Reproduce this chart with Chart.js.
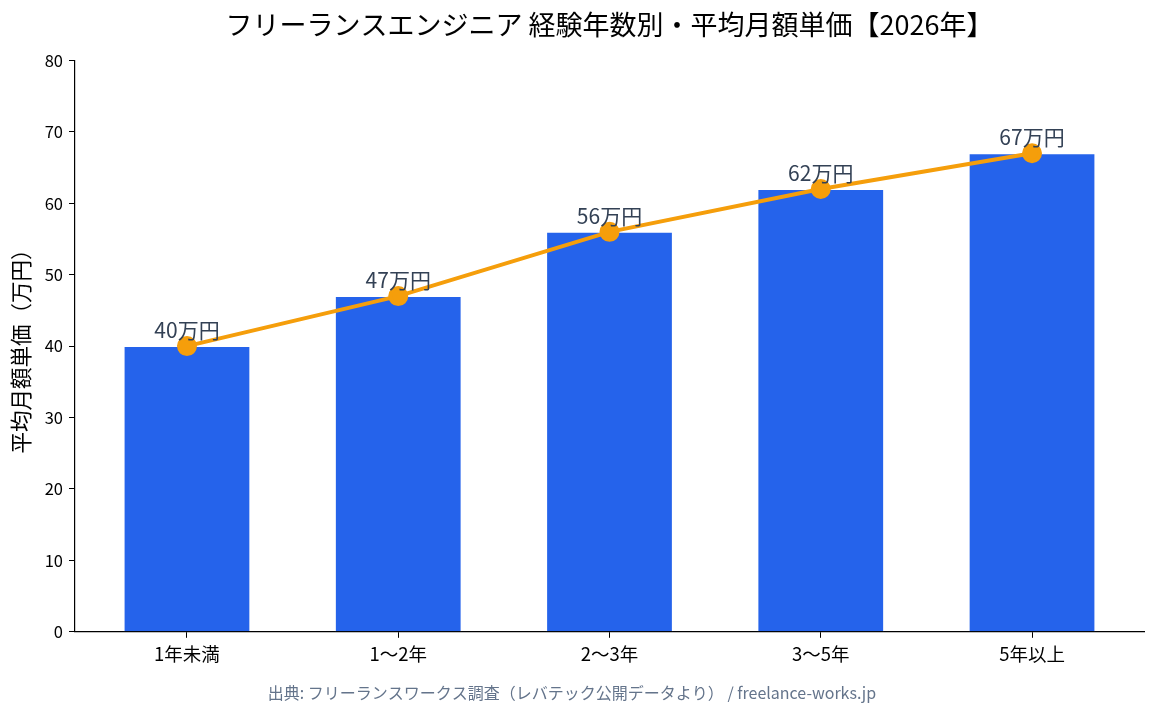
<!DOCTYPE html>
<html lang="ja">
<head>
<meta charset="utf-8">
<script src="https://cdn.jsdelivr.net/npm/chart.js@4/dist/chart.umd.min.js"></script>
<style>
  html, body { margin: 0; padding: 0; background: #fff; }
  #wrap { width: 1156px; height: 717px; }
</style>
</head>
<body>
<div id="wrap"><canvas id="chart"></canvas></div>
<script>
const categories = ['1年未満', '1〜2年', '2〜3年', '3〜5年', '5年以上'];
const monthlyRate = [40, 47, 56, 62, 67];
const yTicks = [0, 10, 20, 30, 40, 50, 60, 70, 80];

const FONT = '"Noto Sans CJK JP", "Noto Sans", sans-serif';

const points = monthlyRate.map((v, i) => ({ x: i, y: v }));

const valueLabels = {
  id: 'valueLabels',
  afterDatasetsDraw(chart) {
    const ctx = chart.ctx;
    const meta = chart.getDatasetMeta(1);
    ctx.save();
    ctx.font = '21px ' + FONT;
    ctx.fillStyle = '#334155';
    ctx.textAlign = 'center';
    ctx.textBaseline = 'alphabetic';
    meta.data.forEach((pt, i) => {
      ctx.fillText(monthlyRate[i] + '万円', pt.x, pt.y - 8);
    });
    ctx.restore();
  }
};

new Chart(document.getElementById('chart'), {
  type: 'bar',
  data: {
    datasets: [
      {
        type: 'bar',
        data: points,
        backgroundColor: '#2563eb',
        borderColor: '#ffffff',
        borderWidth: 1,
        barPercentage: 0.6,
        categoryPercentage: 1,
        order: 1
      },
      {
        type: 'line',
        data: points,
        borderColor: '#f59e0b',
        backgroundColor: '#f59e0b',
        borderWidth: 4,
        pointRadius: 8,
        pointBackgroundColor: '#f59e0b',
        pointBorderColor: '#f59e0b',
        fill: false,
        order: 0
      }
    ]
  },
  options: {
    responsive: true,
    maintainAspectRatio: false,
    animation: false,
    layout: { padding: { left: 0, right: 12, top: 0, bottom: 0 } },
    scales: {
      x: {
        type: 'linear',
        min: -0.53,
        max: 4.53,
        offset: false,
        afterBuildTicks(scale) {
          scale.ticks = categories.map((_, i) => ({ value: i }));
        },
        afterFit(scale) { scale.height = 44; },
        ticks: {
          autoSkip: false,
          color: '#000',
          font: { family: FONT, size: 18.5 },
          padding: 5,
          callback: (v) => categories[v]
        },
        grid: { offset: false, drawOnChartArea: false, drawTicks: true, tickLength: 6, color: '#000' },
        border: { display: true, color: '#000', width: 1.2 }
      },
      y: {
        min: 0,
        max: 80,
        afterBuildTicks(scale) {
          scale.ticks = yTicks.map((v) => ({ value: v }));
        },
        afterFit(scale) { scale.width = 75; },
        ticks: {
          color: '#000',
          font: { family: FONT, size: 16.5 },
          padding: 6
        },
        grid: { drawOnChartArea: false, drawTicks: true, tickLength: 6, color: '#000' },
        border: { display: true, color: '#000', width: 1.2 },
        title: {
          display: true,
          text: '平均月額単価（万円）',
          color: '#000',
          font: { family: FONT, size: 21.5 },
          padding: { top: 8, bottom: 4 }
        }
      }
    },
    plugins: {
      legend: { display: false },
      tooltip: { enabled: false },
      title: {
        display: true,
        fullSize: false,
        text: 'フリーランスエンジニア 経験年数別・平均月額単価【2026年】',
        color: '#000',
        font: { family: FONT, size: 27, weight: 'normal' },
        padding: { top: 9, bottom: 19 }
      },
      subtitle: {
        display: true,
        position: 'bottom',
        text: '出典: フリーランスワークス調査（レバテック公開データより） / freelance-works.jp',
        color: '#64748b',
        font: { family: FONT, size: 16 },
        padding: { top: 8, bottom: 14 }
      }
    }
  },
  plugins: [valueLabels]
});
</script>
</body>
</html>
